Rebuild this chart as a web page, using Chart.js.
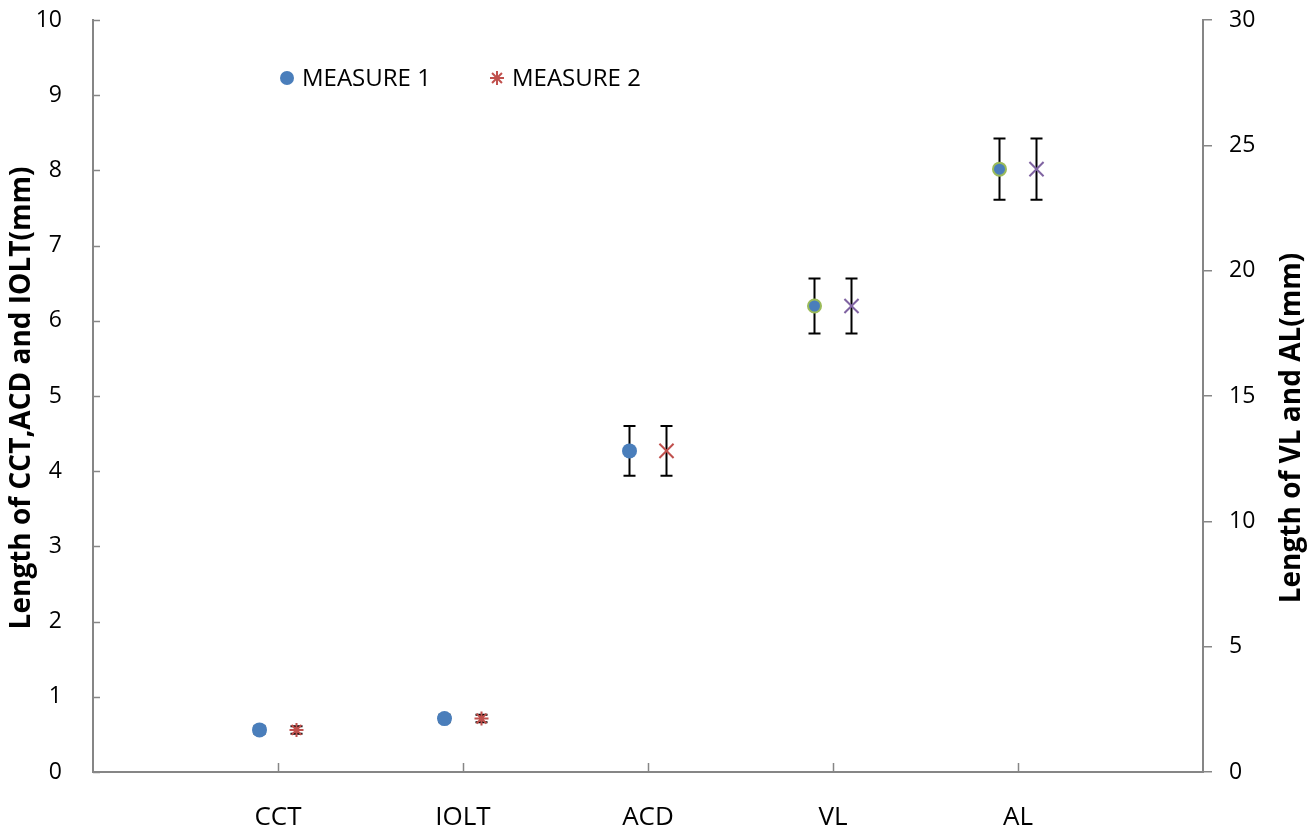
<!DOCTYPE html>
<html>
<head>
<meta charset="utf-8">
<script src="https://cdn.jsdelivr.net/npm/chart.js@4/dist/chart.umd.min.js"></script>
<style>
html,body{margin:0;padding:0;background:#fff;}
#wrap{width:1309px;height:832px;position:relative;}
</style>
</head>
<body>
<div id="wrap"><canvas id="c" width="1309" height="832"></canvas></div>
<script>
// ---- data ----
const categories = ['CCT', 'IOLT', 'ACD', 'VL', 'AL'];
const measure1 = [0.56, 0.71, 4.27, 18.59, 24.05];
const measure2 = [0.56, 0.71, 4.27, 18.59, 24.05];
const error1 = [0.05, 0.05, 0.33, 1.1, 1.22];
const error2 = [0.05, 0.05, 0.33, 1.1, 1.22];
const axisOf = ['y', 'y', 'y', 'y2', 'y2'];
const leftTicks = [0, 1, 2, 3, 4, 5, 6, 7, 8, 9, 10];
const rightTicks = [0, 5, 10, 15, 20, 25, 30];
const seriesNames = ['MEASURE 1', 'MEASURE 2'];

const BLUE = '#4A7EBB', RED = '#C0504D', GREEN = '#9BBB59', PURPLE = '#8064A2', AX = '#868686';
const FONT = "'Open Sans', 'DejaVu Sans', sans-serif";

function pts(vals, errs, axis, offset) {
  const out = [];
  vals.forEach((v, i) => {
    if (axisOf[i] === axis) out.push({x: i + 1 + offset, y: v, err: errs[i]});
  });
  return out;
}

const datasets = [
  {label: seriesNames[0], yAxisID: 'y', data: pts(measure1, error1, 'y', -0.1),
   pointStyle: 'circle', pointRadius: 7.5, backgroundColor: BLUE, borderColor: BLUE, borderWidth: 0, showLine: false},
  {label: seriesNames[1], yAxisID: 'y', data: pts(measure2, error2, 'y', 0.1),
   pointStyle: ['star', 'star', 'crossRot'], pointRadius: [7, 7, 10], backgroundColor: RED, borderColor: RED, borderWidth: 2, showLine: false},
  {label: seriesNames[0] + ' (right)', yAxisID: 'y2', data: pts(measure1, error1, 'y2', -0.1),
   pointStyle: 'circle', pointRadius: 6.5, backgroundColor: BLUE, borderColor: GREEN, borderWidth: 2, showLine: false},
  {label: seriesNames[1] + ' (right)', yAxisID: 'y2', data: pts(measure2, error2, 'y2', 0.1),
   pointStyle: 'crossRot', pointRadius: 10, backgroundColor: PURPLE, borderColor: PURPLE, borderWidth: 2, showLine: false}
];

const errorBars = {
  id: 'errorBars',
  beforeDatasetsDraw(chart) {
    const ctx = chart.ctx, xs = chart.scales.x;
    ctx.save();
    ctx.strokeStyle = '#000';
    ctx.lineWidth = 2;
    chart.data.datasets.forEach(ds => {
      const ys = chart.scales[ds.yAxisID];
      ds.data.forEach(p => {
        const x = xs.getPixelForValue(p.x);
        const t = ys.getPixelForValue(p.y + p.err);
        const b = ys.getPixelForValue(p.y - p.err);
        ctx.beginPath();
        ctx.moveTo(x, t); ctx.lineTo(x, b);
        ctx.moveTo(x - 6, t); ctx.lineTo(x + 6, t);
        ctx.moveTo(x - 6, b); ctx.lineTo(x + 6, b);
        ctx.stroke();
      });
    });
    ctx.restore();
  }
};

const decor = {
  id: 'decor',
  afterDraw(chart) {
    const ctx = chart.ctx, ca = chart.chartArea;
    const xs = chart.scales.x, ys = chart.scales.y;
    ctx.save();
    // inward tick marks on left axis and bottom axis
    ctx.strokeStyle = AX; ctx.lineWidth = 1.5;
    ctx.beginPath();
    leftTicks.forEach(v => {
      const y = Math.round(ys.getPixelForValue(v)) + 0.5;
      ctx.moveTo(ca.left, y); ctx.lineTo(ca.left + 7, y);
    });
    categories.forEach((c, i) => {
      const x = Math.round(xs.getPixelForValue(i + 1)) + 0.5;
      ctx.moveTo(x, ca.bottom); ctx.lineTo(x, ca.bottom - 9);
    });
    ctx.stroke();
    // axis titles
    ctx.fillStyle = '#000';
    ctx.font = 'bold 28px ' + FONT;
    ctx.textAlign = 'center'; ctx.textBaseline = 'middle';
    ctx.save(); ctx.translate(22, 398); ctx.rotate(-Math.PI / 2);
    ctx.fillText('Length of CCT,ACD and IOLT(mm)', 0, 0); ctx.restore();
    ctx.save(); ctx.translate(1292, 428); ctx.rotate(-Math.PI / 2);
    ctx.fillText('Length of VL and AL(mm)', 0, 0); ctx.restore();
    // legend
    ctx.font = '24px ' + FONT;
    ctx.textAlign = 'left';
    ctx.fillStyle = BLUE; ctx.beginPath(); ctx.arc(287, 78, 7, 0, Math.PI * 2); ctx.fill();
    ctx.strokeStyle = RED; ctx.lineWidth = 2;
    Chart.helpers.drawPoint(ctx, {pointStyle: 'star', radius: 7, borderWidth: 2}, 497, 78);
    ctx.fillStyle = '#000';
    ctx.fillText(seriesNames[0], 302, 79);
    ctx.fillText(seriesNames[1], 512, 79);
    ctx.restore();
  }
};

function noPad(s) { s.paddingTop = 0; s.paddingBottom = 0; s.paddingLeft = 0; s.paddingRight = 0; }

new Chart(document.getElementById('c'), {
  type: 'scatter',
  data: {datasets},
  plugins: [errorBars, decor],
  options: {
    responsive: false,
    animation: false,
    layout: {padding: {top: 20, left: 0, right: 0, bottom: 0}},
    plugins: {legend: {display: false}, tooltip: {enabled: false}},
    scales: {
      x: {
        type: 'linear', min: 0, max: 6,
        afterBuildTicks(s) { s.ticks = [0, 1, 2, 3, 4, 5, 6].map(v => ({value: v})); },
        afterFit(s) { s.height = 60; noPad(s); },
        ticks: {
          autoSkip: false, maxRotation: 0, padding: 30, color: '#000',
          font: {family: FONT, size: 26},
          callback: v => (v >= 1 && v <= categories.length) ? categories[v - 1] : ''
        },
        grid: {drawOnChartArea: false, drawTicks: false},
        border: {color: AX, width: 2}
      },
      y: {
        position: 'left', min: 0, max: 10,
        afterBuildTicks(s) { s.ticks = leftTicks.map(v => ({value: v})); },
        afterFit(s) { s.width = 93; noPad(s); },
        ticks: {padding: 31, color: '#000', font: {family: FONT, size: 23}},
        grid: {drawOnChartArea: false, drawTicks: false},
        border: {color: AX, width: 2}
      },
      y2: {
        position: 'right', min: 0, max: 30,
        afterBuildTicks(s) { s.ticks = rightTicks.map(v => ({value: v})); },
        afterFit(s) { s.width = 106; noPad(s); },
        ticks: {padding: 17, color: '#000', font: {family: FONT, size: 23}},
        grid: {drawOnChartArea: false, drawTicks: true, tickLength: 9, color: AX, lineWidth: 1.5},
        border: {color: AX, width: 2}
      }
    }
  }
});
</script>
</body>
</html>
